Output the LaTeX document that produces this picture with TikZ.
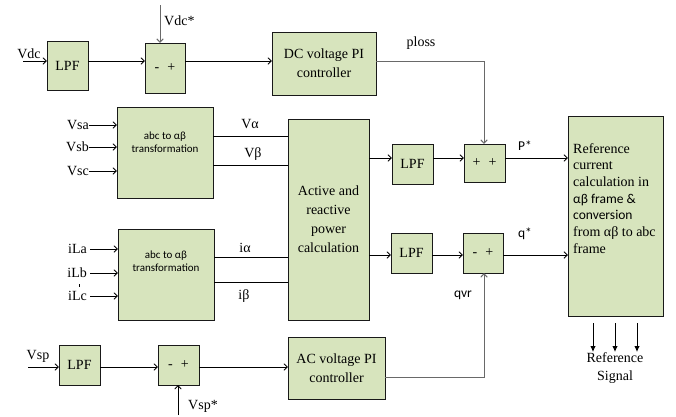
\documentclass[tikz,border=0pt]{standalone}
\usepackage{fontspec}
\setmainfont{Liberation Serif}
\newfontfamily\calfont{Carlito}
\usetikzlibrary{arrows.meta}
\definecolor{boxfill}{RGB}{215,228,189}
\definecolor{lgray}{RGB}{105,105,105}
\tikzset{
  blk/.style={draw=black!90, line width=1pt, fill=boxfill, inner sep=0pt, outer sep=0pt, align=center, font=\rmfamily\fontsize{14}{19}\selectfont},
  sm/.style={font=\calfont\fontsize{11}{13}\selectfont, align=center},
  lab/.style={font=\rmfamily\fontsize{14}{16}\selectfont, inner sep=0pt},
  slab/.style={font=\calfont\fontsize{13.5}{15}\selectfont, inner sep=0pt},
  arr/.style={line width=0.85pt, -{Straight Barb[length=3.5pt,width=6.5pt]}},
  ln/.style={line width=0.9pt},
  garr/.style={draw=lgray, line width=1pt, -{Straight Barb[length=3.5pt,width=6.5pt]}},
  farr/.style={line width=0.9pt, -{Latex[length=6pt,width=5.5pt]}}
}
\begin{document}
\begin{tikzpicture}[x=1pt,y=-1pt]
\useasboundingbox (0,0) rectangle (676,416);
% boxes
\node[blk, minimum width=41pt, minimum height=49pt] (lpf1) at (67.5,65.5) {LPF};
\node[blk, minimum width=40pt, minimum height=50pt] (sum1) at (165,68) {-\hspace{8pt}+};
\node[blk, minimum width=104pt, minimum height=63pt] (dcpi) at (324,63.5) {DC voltage PI\\controller};
\node[blk, minimum width=96pt, minimum height=91pt] (abc1) at (165,152.5) {};
\node[sm] at (165,142.5) {abc to αβ\\transformation};
\node[blk, minimum width=96pt, minimum height=91pt] (abc2) at (166,274.5) {};
\node[sm] at (166,261) {abc to αβ\\transformation};
\node[blk, minimum width=81pt, minimum height=201pt] (act) at (328.5,219.5) {Active and\\reactive\\power\\calculation};
\node[blk, minimum width=41pt, minimum height=40pt] (lpf2) at (412.5,164) {LPF};
\node[blk, minimum width=41pt, minimum height=38pt] (sum2) at (484.5,163) {+\hspace{8pt}+};
\node[blk, minimum width=41pt, minimum height=40pt] (lpf3) at (411.5,253) {LPF};
\node[blk, minimum width=40pt, minimum height=40pt] (sum3) at (483,253) {-\hspace{8pt}+};
\node[blk, minimum width=95pt, minimum height=200pt] (ref) at (615.5,216) {};
\node[anchor=north west, inner sep=0pt, align=left, font=\rmfamily\fontsize{14}{16.7}\selectfont] at (573,143)
  {Reference\\current\\calculation in\\{\calfont\fontsize{13.5}{16.7}\selectfont αβ frame \&}\\{\calfont\fontsize{13.5}{16.7}\selectfont conversion}\\from αβ to abc\\frame};
\node[blk, minimum width=41pt, minimum height=40pt] (lpf4) at (79.5,365) {LPF};
\node[blk, minimum width=41pt, minimum height=40pt] (sum4) at (178.5,365) {-\hspace{8pt}+};
\node[blk, minimum width=97pt, minimum height=62pt] (acpi) at (336.5,368) {AC voltage PI\\controller};

% row coordinates
\coordinate (r1) at (0,61);
\coordinate (va) at (0,136);
\coordinate (vb) at (0,165);
\coordinate (ia) at (0,257);
\coordinate (ib) at (0,282);
\coordinate (rp) at (0,158);
\coordinate (rq) at (0,255);
\coordinate (rs) at (0,367);
\coordinate (xs) at (484,0);

% DC row
\coordinate (vdcin) at (23,61);
\draw[arr] (vdcin) -- (lpf1.west |- r1);
\node[lab] at (29,54) {Vdc};
\draw[arr] (lpf1.east |- r1) -- (sum1.west |- r1);
\coordinate (vdcs) at (160,5);
\draw[garr] (vdcs) -- (sum1.north -| vdcs);
\node[lab, anchor=west] at (164,21) {Vdc*};
\draw[arr] (sum1.east |- r1) -- (dcpi.west |- r1);
\draw[garr] (dcpi.east |- r1) -| (sum2.north -| xs);
\node[lab] at (421,43) {ploss};

% source voltages
\foreach \n/\y in {Vsa/125,Vsb/147,Vsc/171}{
  \coordinate (\n) at (89,\y);
  \draw[arr] (\n) -- (abc1.west |- \n);
  \node[lab, anchor=east] at (\n) {\n};
}
\draw[ln] (abc1.east |- va) -- (act.west |- va);
\node[lab] at (250,124) {Vα};
\draw[ln] (abc1.east |- vb) -- (act.west |- vb);
\node[lab] at (253,154) {Vβ};

% load currents
\foreach \n/\y in {iLa/249,iLb/273,iLc/296}{
  \coordinate (\n) at (90,\y);
  \draw[arr] (\n) -- (abc2.west |- \n);
  \node[lab, anchor=east] at ([xshift=-3pt]\n) {\n};
}
\coordinate (tk1) at (79,284);
\coordinate (tk2) at (79,287);
\draw[line width=0.5pt] (tk1) -- (tk2);
\draw[ln] (abc2.east |- ia) -- (act.west |- ia);
\node[lab] at (245,248) {iα};
\draw[ln] (abc2.east |- ib) -- (act.west |- ib);
\node[lab] at (244,296) {iβ};

% p and q paths
\draw[arr] (act.east |- rp) -- (lpf2.west |- rp);
\draw[arr] (lpf2.east |- rp) -- (sum2.west |- rp);
\draw[arr] (sum2.east |- rp) -- (ref.west |- rp);
\node[slab] at (525,146) {P*};
\draw[arr] (act.east |- rq) -- (lpf3.west |- rq);
\draw[arr] (lpf3.east |- rq) -- (sum3.west |- rq);
\draw[arr] (sum3.east |- rq) -- (ref.west |- rq);
\node[slab] at (525,234) {q*};

% AC row
\coordinate (vspin) at (28,367);
\draw[arr] (vspin) -- (lpf4.west |- rs);
\node[lab] at (38,356) {Vsp};
\draw[arr] (lpf4.east |- rs) -- (sum4.west |- rs);
\coordinate (vsps) at (178,415);
\draw[arr] (vsps) -- (sum4.south -| vsps);
\node[lab] at (203,406) {Vsp*};
\draw[arr] (sum4.east |- rs) -- (acpi.west |- rs);
\coordinate (rqv) at (0,377);
\draw[garr] (acpi.east |- rqv) -| (sum3.south -| xs);
\node[slab] at (463,295) {qvr};

% reference outputs
\foreach \x in {593,615,637}{
  \coordinate (o\x) at (\x,323);
  \draw[farr] (o\x) -- ++(0,29);
}
\node[lab, align=center, font=\rmfamily\fontsize{14}{18}\selectfont] at (615,368) {Reference\\Signal};
\end{tikzpicture}
\end{document}
